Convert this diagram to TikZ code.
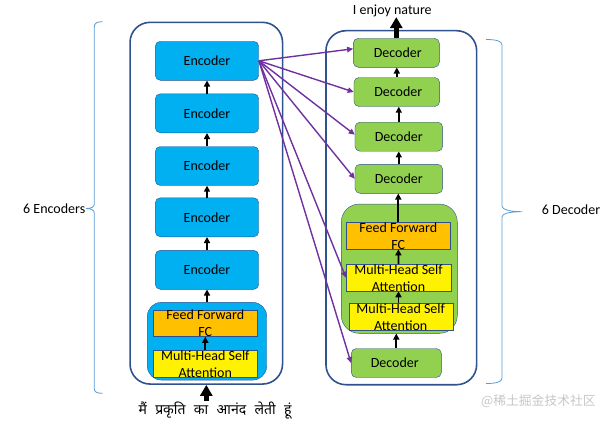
\documentclass[tikz,border=0pt]{standalone}
\usepackage{fontspec}
\setmainfont{Carlito}
\newfontfamily\hindifont[Script=Devanagari,WordSpace=2.3]{Noto Sans}
\newfontfamily\cjkfont{Noto Sans CJK SC}
\usetikzlibrary{arrows.meta}

\definecolor{encblue}{HTML}{00B0F0}
\definecolor{decgreen}{HTML}{92D050}
\definecolor{fforange}{HTML}{FFC000}
\definecolor{edgeblue}{HTML}{2F528F}
\definecolor{braceblue}{HTML}{5B9BD5}
\definecolor{attnpurple}{HTML}{7030A0}

\begin{document}
\begin{tikzpicture}[x=1pt,y=-1pt,font=\fontsize{14}{16}\selectfont]
      \useasboundingbox (0,0) rectangle (607,420);

      \tikzstyle{stack}=[rectangle,draw=edgeblue,line width=1.6pt,
        rounded corners=20pt,inner sep=0pt]
      \tikzstyle{box}=[rectangle,rounded corners=5pt,draw=edgeblue,
        inner sep=0pt]
      \tikzstyle{enc}=[box,fill=encblue,minimum width=103.4pt,minimum height=39pt]
      \tikzstyle{dec}=[box,fill=decgreen,minimum height=29pt]
      \tikzstyle{sub}=[rectangle,draw=edgeblue,inner sep=0pt,
        minimum width=104.7pt,minimum height=26.7pt]
      \tikzstyle{txt}=[align=center,inner sep=0pt,
        font=\fontsize{14}{17}\selectfont]

      % outer stacks
      \node[stack,minimum width=152.5pt,minimum height=361.7pt] (EncStack) at (206.3,203.2) {};
      \node[stack,minimum width=150.7pt,minimum height=354pt]   (DecStack) at (401.3,207.7) {};

      % encoders
      \node[enc] (E1) at (207,60.8)  {Encoder};
      \node[enc] (E2) at (207,113.3) {Encoder};
      \node[enc] (E3) at (207,166)   {Encoder};
      \node[enc] (E4) at (207,217.3) {Encoder};
      \node[enc] (E5) at (207,269.8) {Encoder};
      \node[box,fill=encblue,rounded corners=14pt,minimum width=119.4pt,
        minimum height=77.7pt] (EB) at (207,341.2) {};
      \node[sub,fill=fforange] (eFF) at (205.3,323.2) {};
      \node[sub,fill=yellow]   (eMH) at (205.3,363.8) {};
      \node[txt] (eFFt) at (eFF) {Feed Forward\\FC};
      \node[txt] (eMHt) at (eMH) {Multi-Head Self\\Attention};

      % decoders
      \node[dec,minimum width=86pt]   (D1) at (396.3,52.8)  {\hspace*{3pt}Decoder};
      \node[dec,minimum width=85.7pt] (D2) at (396.8,92)    {\hspace*{3pt}Decoder};
      \node[dec,minimum width=87.7pt] (D3) at (398.8,136.7) {Decoder};
      \node[dec,minimum width=87.7pt] (D4) at (398.8,178.8) {Decoder};
      \node[box,fill=decgreen,rounded corners=18pt,minimum width=116pt,
        minimum height=129.3pt] (DB) at (399.3,268.7) {};
      \node[sub,fill=fforange] (dFF)  at (398.3,235.8) {};
      \node[sub,fill=yellow]   (dMH1) at (398.5,277.7) {};
      \node[sub,fill=yellow,minimum width=104pt] (dMH2) at (400.7,316.7) {};
      \node[txt] (dFFt)  at (dFF)  {Feed Forward\\FC};
      \node[txt] (dMH1t) at (dMH1) {Multi-Head Self\\Attention};
      \node[txt] (dMH2t) at (dMH2) {Multi-Head Self\\Attention};
      \node[dec,minimum width=90pt] (D0) at (396.3,363) {Decoder\hspace*{3pt}};

      % sentences
      \node[anchor=base,inner sep=0pt] (outTxt) at (392.3,14.5) {I enjoy nature};
      \node[anchor=base,inner sep=0pt] (inTxt) at (215,414)
        {\hindifont मैं प्रकृति का आनंद लेती हूं};

      \tikzstyle{up}=[-{Triangle[length=6pt,width=6pt]},line width=1.8pt]
      \tikzstyle{big}=[-{Triangle[length=11pt,width=12pt]},line width=4.5pt]
      \tikzstyle{cross}=[-{Triangle[length=6pt,width=5.5pt]},line width=1.4pt,
        draw=attnpurple]

      \draw[up] (E2) -- (E1);
      \draw[up] (E3) -- (E2);
      \draw[up] (E4) -- (E3);
      \draw[up] (E5) -- (E4);
      \draw[up] (EB) -- (E5);
      \draw[up] (eMH) -- (eFF);
      \draw[big] (inTxt.north -| EncStack.south) -- (EncStack.south);

      \draw[up] (D4.north) -- (D4.north |- D3.south);
      \draw[up] (D3.north) -- (D3.north |- D2.south);
      \draw[up] (D2.north) -- (D2.north |- D1.south);
      \draw[up] (dFF.north) -- (dFF.north |- D4.south);
      \draw[up] (dMH1) -- (dFF);
      \draw[up] (dMH2.north -| dMH1.south) -- (dMH1.south);
      \draw[up] (D0.north) -- (D0.north |- DB.south);
      \draw[big] (D1.north) -- (D1.north |- outTxt.south);

      % encoder output to every decoder
      \draw[cross] (E1.east) -- ([yshift=4pt]D1.west);
      \draw[cross] (E1.east) -- (D2.west);
      \draw[cross] (E1.east) -- ([yshift=2pt]D3.west);
      \draw[cross] (E1.east) -- (D4.west);
      \draw[cross] (E1.east) -- (dMH1.west);
      \draw[cross] (E1.east) -- (D0.west);

      % braces
      \draw[braceblue,line width=0.8pt]
        (102.7,21.7) .. controls (97,21.7) and (94.3,23) .. (94.3,27)
        -- (94.3,204) .. controls (94.3,207) and (91,208.5) .. (86,208.5)
        .. controls (91,208.5) and (94.3,210) .. (94.3,213)
        -- (94.3,389) .. controls (94.3,392) and (97,393.3) .. (102.7,393.3);
      \draw[braceblue,line width=0.8pt]
        (486,39.5) .. controls (496,39.5) and (502,41) .. (502,45)
        -- (502,206) .. controls (502,209) and (508,211.7) .. (522,211.7)
        .. controls (508,211.7) and (502,214) .. (502,217)
        -- (502,378) .. controls (502,382) and (496,383.5) .. (486,383.5);
      \node[anchor=base east,inner sep=0pt] (encLbl) at (85.5,213.3) {6 Encoders};
      \node[anchor=base west,inner sep=0pt] (decLbl) at (541.7,214.3) {6 Decoder};

      \node[anchor=base west,inner sep=0pt,text=black!22] (mark) at (481,405)
        {\cjkfont\fontsize{12.8}{14}\selectfont @稀土掘金技术社区};
\end{tikzpicture}
\end{document}
